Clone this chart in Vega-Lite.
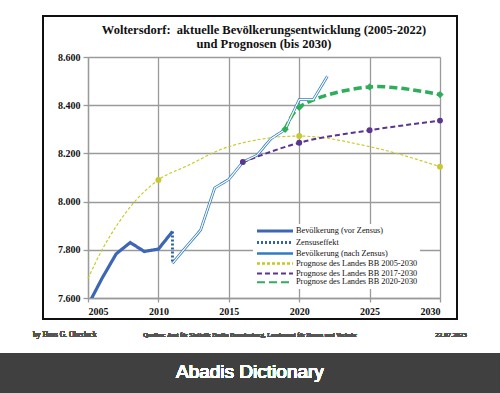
{
  "$schema": "https://vega.github.io/schema/vega-lite/v6.json",
  "width": 352,
  "height": 241,
  "autosize": "none",
  "padding": {"left": 88, "top": 57, "right": 60, "bottom": 95},
  "background": "white",
  "title": {
    "text": ["Woltersdorf: \u00a0aktuelle Bevölkerungsentwicklung (2005-2022)", "und Prognosen (bis 2030)"],
    "font": "Liberation Serif",
    "fontSize": 12.5,
    "fontWeight": "bold",
    "lineHeight": 14,
    "color": "#111",
    "anchor": "middle",
    "frame": "group",
    "offset": -35
  },
  "config": {
    "view": {"stroke": null},
    "legend": {
      "orient": "none",
      "legendX": 165,
      "legendY": 167,
      "symbolType": "M-1,0H11",
      "symbolSize": 36,
      "labelFont": "Liberation Serif",
      "labelFontSize": 8.3,
      "labelFontWeight": "normal",
      "labelColor": "#111",
      "fillColor": "white",
      "padding": 2,
      "rowPadding": -2,
      "labelOffset": 31
    }
  },
  "data": {
    "values": [
      {"series": "Bevölkerung (vor Zensus)", "year": 2005, "value": 7570},
      {"series": "Bevölkerung (vor Zensus)", "year": 2006, "value": 7682},
      {"series": "Bevölkerung (vor Zensus)", "year": 2007, "value": 7783},
      {"series": "Bevölkerung (vor Zensus)", "year": 2008, "value": 7830},
      {"series": "Bevölkerung (vor Zensus)", "year": 2009, "value": 7793},
      {"series": "Bevölkerung (vor Zensus)", "year": 2010, "value": 7803},
      {"series": "Bevölkerung (vor Zensus)", "year": 2011, "value": 7876},
      {"series": "Zensuseffekt", "year": 2011, "value": 7876},
      {"series": "Zensuseffekt", "year": 2011, "value": 7744},
      {"series": "Bevölkerung (nach Zensus)", "year": 2011, "value": 7744},
      {"series": "Bevölkerung (nach Zensus)", "year": 2012, "value": 7814},
      {"series": "Bevölkerung (nach Zensus)", "year": 2013, "value": 7882},
      {"series": "Bevölkerung (nach Zensus)", "year": 2014, "value": 8057},
      {"series": "Bevölkerung (nach Zensus)", "year": 2015, "value": 8092},
      {"series": "Bevölkerung (nach Zensus)", "year": 2016, "value": 8164},
      {"series": "Bevölkerung (nach Zensus)", "year": 2017, "value": 8192},
      {"series": "Bevölkerung (nach Zensus)", "year": 2018, "value": 8261},
      {"series": "Bevölkerung (nach Zensus)", "year": 2019, "value": 8299},
      {"series": "Bevölkerung (nach Zensus)", "year": 2020, "value": 8423},
      {"series": "Bevölkerung (nach Zensus)", "year": 2021, "value": 8423},
      {"series": "Bevölkerung (nach Zensus)", "year": 2022, "value": 8520},
      {"series": "Prognose des Landes BB 2005-2030", "year": 2005, "value": 7681},
      {"series": "Prognose des Landes BB 2005-2030", "year": 2006, "value": 7800},
      {"series": "Prognose des Landes BB 2005-2030", "year": 2007, "value": 7897},
      {"series": "Prognose des Landes BB 2005-2030", "year": 2008, "value": 7978},
      {"series": "Prognose des Landes BB 2005-2030", "year": 2010, "value": 8090},
      {"series": "Prognose des Landes BB 2005-2030", "year": 2012, "value": 8147},
      {"series": "Prognose des Landes BB 2005-2030", "year": 2015, "value": 8228},
      {"series": "Prognose des Landes BB 2005-2030", "year": 2020, "value": 8272},
      {"series": "Prognose des Landes BB 2005-2030", "year": 2025, "value": 8228},
      {"series": "Prognose des Landes BB 2005-2030", "year": 2030, "value": 8145},
      {"series": "Prognose des Landes BB 2017-2030", "year": 2016, "value": 8164},
      {"series": "Prognose des Landes BB 2017-2030", "year": 2020, "value": 8244},
      {"series": "Prognose des Landes BB 2017-2030", "year": 2025, "value": 8296},
      {"series": "Prognose des Landes BB 2017-2030", "year": 2030, "value": 8336},
      {"series": "Prognose des Landes BB 2020-2030", "year": 2019, "value": 8300},
      {"series": "Prognose des Landes BB 2020-2030", "year": 2020, "value": 8391},
      {"series": "Prognose des Landes BB 2020-2030", "year": 2025, "value": 8476},
      {"series": "Prognose des Landes BB 2020-2030", "year": 2030, "value": 8444}
    ]
  },
  "layer": [
    {
      "mark": {"type": "rect", "fill": null, "stroke": "#111", "strokeWidth": 1.5},
      "encoding": {
        "x": {"datum": 2001.8, "type": "quantitative"},
        "x2": {"datum": 2031.21},
        "y": {"datum": 8770, "type": "quantitative"},
        "y2": {"datum": 7513}
      }
    },
    {
      "mark": {"type": "rect", "fill": "#404040", "stroke": null},
      "encoding": {
        "x": {"datum": 1998.75, "type": "quantitative"},
        "x2": {"datum": 2034.26},
        "y": {"datum": 7372, "type": "quantitative"},
        "y2": {"datum": 7206}
      }
    },
    {
      "mark": {"type": "text", "text": "Abadis Dictionary", "font": "Liberation Sans", "fontSize": 19, "fontWeight": "normal", "color": "white", "align": "center", "baseline": "middle"},
      "encoding": {
        "x": {"datum": 2016.5, "type": "quantitative"},
        "y": {"datum": 7293, "type": "quantitative"}
      }
    },
    {
      "mark": {"type": "text", "text": "by Hans G. Oberlack", "font": "Liberation Serif", "fontSize": 7.5, "fontWeight": "normal", "color": "#555", "align": "left", "baseline": "middle"},
      "encoding": {
        "x": {"datum": 2001.1, "type": "quantitative"},
        "y": {"datum": 7446, "type": "quantitative"}
      }
    },
    {
      "mark": {"type": "text", "text": "Quellen: Amt für Statistik Berlin Brandenburg, Landesamt für Bauen und Verkehr", "font": "Liberation Serif", "fontSize": 6.5, "fontWeight": "normal", "color": "#555", "align": "center", "baseline": "middle"},
      "encoding": {
        "x": {"datum": 2016.5, "type": "quantitative"},
        "y": {"datum": 7446, "type": "quantitative"}
      }
    },
    {
      "mark": {"type": "text", "text": "22.07.2023", "font": "Liberation Serif", "fontSize": 7, "fontWeight": "normal", "color": "#555", "align": "right", "baseline": "middle"},
      "encoding": {
        "x": {"datum": 2031.9, "type": "quantitative"},
        "y": {"datum": 7446, "type": "quantitative"}
      }
    },
    {
      "transform": [{"filter": "indexof(datum.series, 'Prognose') < 0"}],
      "mark": {"type": "line", "clip": true, "strokeCap": "butt"},
      "encoding": {
        "x": {
          "field": "year", "type": "quantitative",
          "scale": {"domain": [2005, 2030], "nice": false, "zero": false},
          "axis": {
            "title": null, "values": [2005, 2010, 2015, 2020, 2025, 2030], "format": "d",
            "grid": true, "gridColor": "#9a9a9a", "gridWidth": 1.3,
            "domainColor": "#9a9a9a", "domainWidth": 1.3, "tickColor": "#9a9a9a", "tickWidth": 1.3, "tickSize": 4,
            "labelFont": "Liberation Serif", "labelFontWeight": "bold", "labelFontSize": 10, "labelColor": "#111", "labelPadding": 4
          }
        },
        "y": {
          "field": "value", "type": "quantitative",
          "scale": {"domain": [7600, 8600], "nice": false, "zero": false},
          "axis": {
            "title": null, "values": [7600, 7800, 8000, 8200, 8400, 8600],
            "labelExpr": "replace(format(datum.value, ','), ',', '.')",
            "grid": true, "gridColor": "#9a9a9a", "gridWidth": 1.3,
            "domainColor": "#9a9a9a", "domainWidth": 1.3, "tickColor": "#9a9a9a", "tickWidth": 1.3, "tickSize": 5,
            "labelFont": "Liberation Serif", "labelFontWeight": "bold", "labelFontSize": 10, "labelColor": "#111", "labelPadding": 3
          }
        },
        "detail": {"field": "series"},
        "color": {
          "field": "series", "type": "nominal", "title": null,
          "scale": {
            "domain": ["Bevölkerung (vor Zensus)", "Zensuseffekt", "Bevölkerung (nach Zensus)", "Prognose des Landes BB 2005-2030", "Prognose des Landes BB 2017-2030", "Prognose des Landes BB 2020-2030"],
            "range": ["#3d67b5", "#2f62b0", "#2f7cc3", "#c8c81e", "#5a3592", "#2eae5a"]
          }
        },
        "strokeDash": {
          "field": "series", "type": "nominal", "title": null,
          "scale": {
            "domain": ["Bevölkerung (vor Zensus)", "Zensuseffekt", "Bevölkerung (nach Zensus)", "Prognose des Landes BB 2005-2030", "Prognose des Landes BB 2017-2030", "Prognose des Landes BB 2020-2030"],
            "range": [[1, 0], [2, 2], [1, 0], [3, 2], [5, 3], [8, 4]]
          }
        },
        "strokeWidth": {
          "field": "series", "type": "nominal", "title": null,
          "scale": {
            "domain": ["Bevölkerung (vor Zensus)", "Zensuseffekt", "Bevölkerung (nach Zensus)", "Prognose des Landes BB 2005-2030", "Prognose des Landes BB 2017-2030", "Prognose des Landes BB 2020-2030"],
            "range": [3.2, 2, 4, 1.1, 2, 3.5]
          }
        }
      }
    },
    {
      "transform": [{"filter": "datum.series == 'Prognose des Landes BB 2005-2030'"}],
      "mark": {"type": "line", "interpolate": "monotone", "strokeDash": [3, 2], "strokeWidth": 1.1, "color": "#c8c81e"},
      "encoding": {
        "x": {"field": "year", "type": "quantitative"},
        "y": {"field": "value", "type": "quantitative"}
      }
    },
    {
      "transform": [{"filter": "datum.series == 'Prognose des Landes BB 2017-2030'"}],
      "mark": {"type": "line", "interpolate": "monotone", "strokeDash": [5, 3], "strokeWidth": 2, "color": "#5a3592"},
      "encoding": {
        "x": {"field": "year", "type": "quantitative"},
        "y": {"field": "value", "type": "quantitative"}
      }
    },
    {
      "transform": [{"filter": "datum.series == 'Prognose des Landes BB 2020-2030'"}],
      "mark": {"type": "line", "interpolate": "catmull-rom", "strokeDash": [8, 4], "strokeWidth": 3.5, "color": "#2eae5a"},
      "encoding": {
        "x": {"field": "year", "type": "quantitative"},
        "y": {"field": "value", "type": "quantitative"}
      }
    },
    {
      "transform": [{"filter": "datum.series == 'Bevölkerung (nach Zensus)'"}],
      "mark": {"type": "line", "color": "white", "strokeWidth": 1.2},
      "encoding": {
        "x": {"field": "year", "type": "quantitative"},
        "y": {"field": "value", "type": "quantitative"}
      }
    },
    {
      "transform": [{"filter": "datum.series == 'Prognose des Landes BB 2017-2030' || (datum.series == 'Prognose des Landes BB 2005-2030' && datum.year % 10 == 0)"}],
      "mark": {"type": "point", "filled": true, "opacity": 1, "size": 35},
      "encoding": {
        "x": {"field": "year", "type": "quantitative"},
        "y": {"field": "value", "type": "quantitative"},
        "fill": {"field": "series", "type": "nominal", "legend": null, "scale": {"domain": ["Prognose des Landes BB 2005-2030", "Prognose des Landes BB 2017-2030"], "range": ["#c8c832", "#5a3592"]}}
      }
    },
    {
      "transform": [{"filter": "datum.series == 'Prognose des Landes BB 2020-2030'"}],
      "mark": {"type": "point", "filled": true, "opacity": 1, "shape": "diamond", "size": 55, "color": "#2eae5a"},
      "encoding": {
        "x": {"field": "year", "type": "quantitative"},
        "y": {"field": "value", "type": "quantitative"}
      }
    }
  ],
  "resolve": {"scale": {"fill": "independent"}}
}
